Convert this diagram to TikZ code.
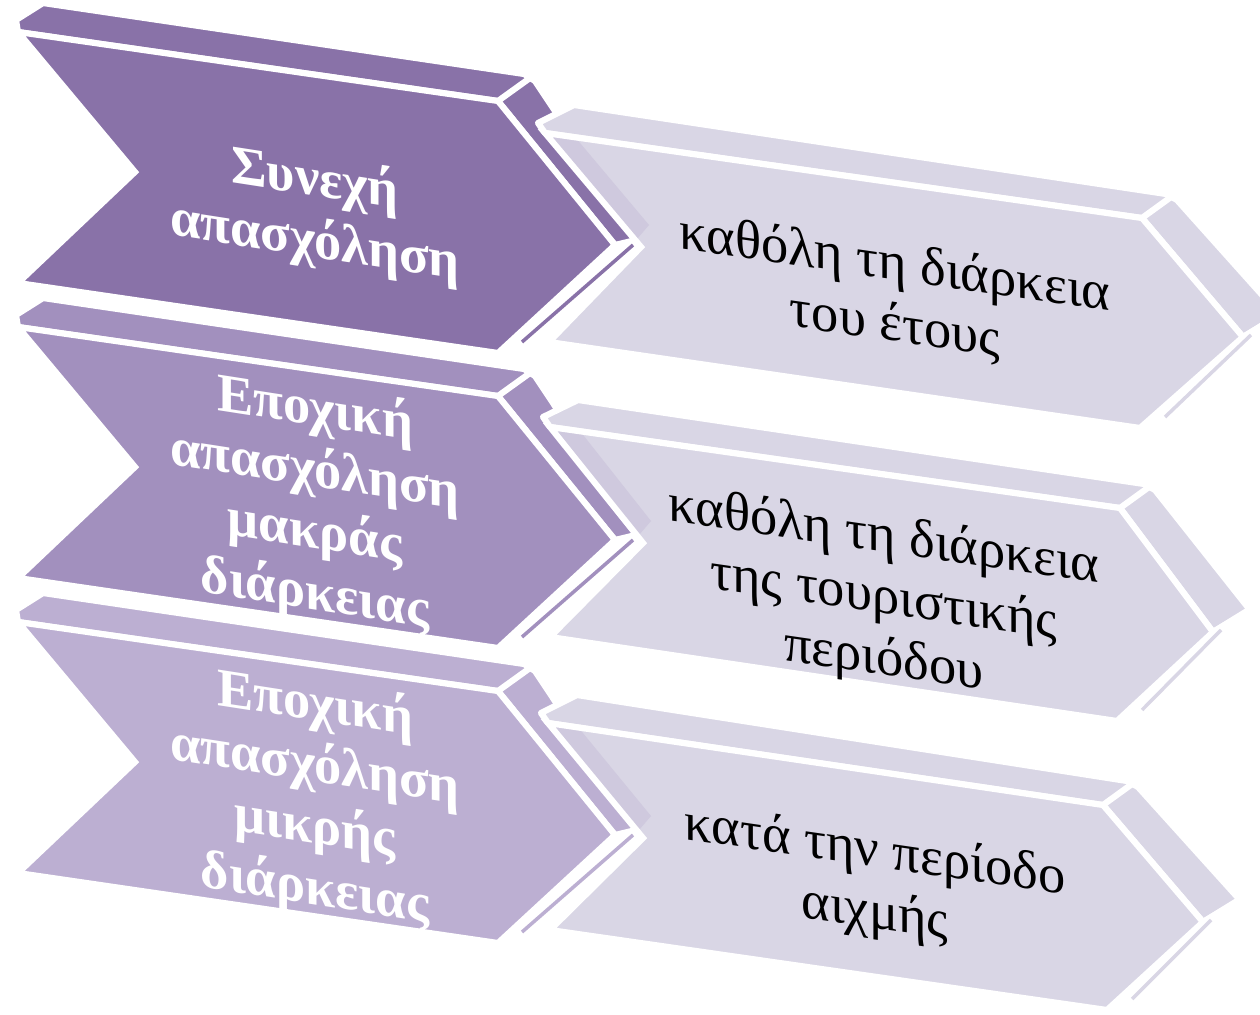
\documentclass[tikz,border=0pt]{standalone}
\usepackage{fontspec}
\setmainfont{Liberation Serif}
\definecolor{violetA}{HTML}{8972A8}
\definecolor{violetB}{HTML}{A290BE}
\definecolor{violetC}{HTML}{BCAFD2}
\definecolor{lilac}{HTML}{D9D6E5}
\definecolor{lilacdark}{HTML}{CFC9DE}

\begin{document}
\begin{tikzpicture}[x=0.02cm,y=-0.02cm]
    \tikzset{face/.style = {draw=white,line width=3.5pt,line join=miter}}
    \tikzset{bevel/.style = {draw=white,line width=3.5pt,line join=round}}
    \tikzset{gap/.style = {draw=white,line width=3.5pt}}
    \tikzset{kind/.style = {align=center,text=white,font=\fontsize{31}{35}\selectfont\bfseries,yslant=-0.155}}
    \tikzset{period/.style = {align=center,font=\fontsize{31}{35}\selectfont,yslant=-0.145}}
    \useasboundingbox (0,0) rectangle (1260,1014);
    \clip (0,0) rectangle (1260,1014);
    % purple chevrons
    \begin{scope}
        \filldraw[bevel,fill=violetA] (16,20) -- (43,3) -- (524,74) -- (535,81) -- (640,239) -- (615,245) -- (498,101) -- (18,32) -- cycle;
        \filldraw[face,fill=violetA] (18,32) -- (498,101) -- (615,245) -- (498,353) -- (18,283) -- (135,172) -- cycle;
        \draw[gap] (498,101) -- (530,78);
        \draw[violetA,line width=2pt] (633,245) -- (522,342);
    \end{scope}
    \begin{scope}[shift={(0,295)}]
        \filldraw[bevel,fill=violetB] (16,20) -- (43,3) -- (524,74) -- (535,81) -- (640,239) -- (615,245) -- (498,101) -- (18,32) -- cycle;
        \filldraw[face,fill=violetB] (18,32) -- (498,101) -- (615,245) -- (498,353) -- (18,283) -- (135,172) -- cycle;
        \draw[gap] (498,101) -- (530,78);
        \draw[violetB,line width=2pt] (633,245) -- (522,342);
    \end{scope}
    \begin{scope}[shift={(0,590)}]
        \filldraw[bevel,fill=violetC] (16,20) -- (43,3) -- (524,74) -- (535,81) -- (640,239) -- (615,245) -- (498,101) -- (18,32) -- cycle;
        \filldraw[face,fill=violetC] (18,32) -- (498,101) -- (615,245) -- (498,353) -- (18,283) -- (135,172) -- cycle;
        \draw[gap] (498,101) -- (530,78);
        \draw[violetC,line width=2pt] (633,245) -- (522,342);
    \end{scope}
    % light chevrons
    \filldraw[bevel,fill=lilac] (538,123) -- (574,105) -- (1166,194) -- (1177,200) -- (1280,315) -- (1243,337) -- (1142,218) -- (545,133) -- cycle;
    \fill[lilac] (545,133) -- (1142,218) -- (1243,337) -- (1140,428) -- (549,342) -- (641,247) -- cycle;
    \fill[lilacdark] (545,133) -- (575,137) -- (649,225) -- (637,239) -- cycle;
    \draw[face] (545,133) -- (1142,218) -- (1243,337) -- (1140,428) -- (549,342) -- (641,247) -- cycle;
    \draw[gap] (1142,218) -- (1171,197);
    \draw[gap] (1243,337) -- (1277,316);
    \draw[lilac,line width=2pt] (1251,335) -- (1165,417);

    \filldraw[bevel,fill=lilac] (543,417) -- (578,400) -- (1144,484) -- (1155,490) -- (1250,610) -- (1213,632) -- (1120,508) -- (550,427) -- cycle;
    \fill[lilac] (550,427) -- (1120,508) -- (1213,632) -- (1117,721) -- (550,637) -- (643,543) -- cycle;
    \fill[lilacdark] (550,427) -- (580,431) -- (651,521) -- (639,535) -- cycle;
    \draw[face] (550,427) -- (1120,508) -- (1213,632) -- (1117,721) -- (550,637) -- (643,543) -- cycle;
    \draw[gap] (1120,508) -- (1149,487);
    \draw[gap] (1213,632) -- (1247,611);
    \draw[lilac,line width=2pt] (1221,630) -- (1142,710);

    \filldraw[bevel,fill=lilac] (541,713) -- (577,695) -- (1127,781) -- (1138,787) -- (1240,900) -- (1203,922) -- (1103,805) -- (548,723) -- cycle;
    \fill[lilac] (548,723) -- (1103,805) -- (1203,922) -- (1107,1010) -- (550,930) -- (643,838) -- cycle;
    \fill[lilacdark] (548,723) -- (578,727) -- (651,816) -- (639,830) -- cycle;
    \draw[face] (548,723) -- (1103,805) -- (1203,922) -- (1107,1010) -- (550,930) -- (643,838) -- cycle;
    \draw[gap] (1103,805) -- (1132,784);
    \draw[gap] (1203,922) -- (1237,901);
    \draw[lilac,line width=2pt] (1211,920) -- (1132,999);
    % labels
    \node[kind] (steady) at (315,212) {Συνεχή\\απασχόληση};
    \node[kind] (longseason) at (315,503) {Εποχική\\απασχόληση\\μακράς\\διάρκειας};
    \node[kind] (shortseason) at (315,798) {Εποχική\\απασχόληση\\μικρής\\διάρκειας};
    \node[period] (wholeyear) at (895,296) {καθόλη τη διάρκεια\\του έτους};
    \node[period] (wholeseason) at (884,600) {καθόλη τη διάρκεια\\της τουριστικής\\περιόδου};
    \node[period] (peak) at (875,884) {κατά την περίοδο\\αιχμής};
\end{tikzpicture}
\end{document}
